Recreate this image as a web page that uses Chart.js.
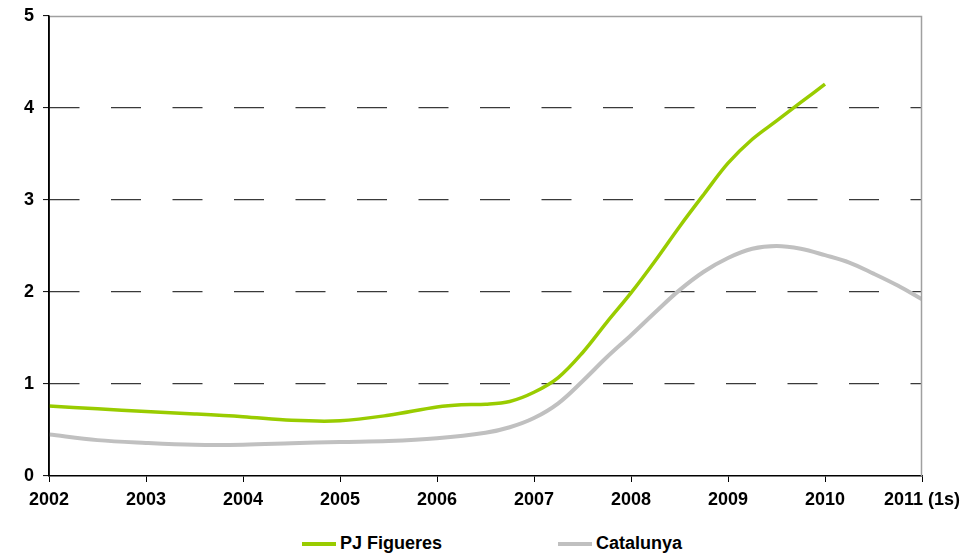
<!DOCTYPE html>
<html>
<head>
<meta charset="utf-8">
<script src="https://cdn.jsdelivr.net/npm/chart.js@4/dist/chart.umd.min.js"></script>
<style>
  html, body { margin: 0; padding: 0; background: #fff; }
  #wrap { position: relative; width: 974px; height: 555px; }
  #box { position: absolute; left: 0; top: 0; width: 974px; height: 520px; }
  #legend { position: absolute; left: 302px; top: 533px; display: flex; align-items: center;
            font: bold 18px "Liberation Sans", Arial, sans-serif; color: #000; }
  .item { display: flex; align-items: center; margin-right: 116px; }
  .swatch { width: 34px; height: 4px; margin-right: 4px; }
</style>
</head>
<body>
<div id="wrap">
  <div id="box"><canvas id="c"></canvas></div>
  <div id="legend"></div>
</div>
<script>
// Year axis
const yearTicks = [2002, 2003, 2004, 2005, 2006, 2007, 2008, 2009, 2010, 2011];
const yearLabels = ['2002', '2003', '2004', '2005', '2006', '2007', '2008', '2009', '2010', '2011 (1s)'];

// PJ Figueres
const figueresX = [2002, 2002.5, 2003, 2003.5, 2004, 2004.5, 2005, 2005.5, 2006, 2006.25, 2006.5, 2006.75,
                   2007, 2007.25, 2007.5, 2007.75, 2008, 2008.25, 2008.5, 2008.75, 2009, 2009.25, 2009.5, 2009.75, 2010];
const figueresY = [0.76, 0.73, 0.70, 0.675, 0.645, 0.605, 0.60, 0.66, 0.75, 0.775, 0.78, 0.81,
                   0.91, 1.07, 1.34, 1.67, 1.99, 2.34, 2.71, 3.06, 3.40, 3.66, 3.86, 4.06, 4.26];

// Catalunya
const catalunyaX = [2002, 2002.5, 2003, 2003.5, 2004, 2004.5, 2005, 2005.5, 2006, 2006.5, 2006.75,
                    2007, 2007.25, 2007.5, 2007.75, 2008, 2008.25, 2008.5, 2008.75, 2009, 2009.25, 2009.5, 2009.75,
                    2010, 2010.25, 2010.5, 2010.75, 2011];
const catalunyaY = [0.45, 0.39, 0.36, 0.34, 0.34, 0.355, 0.37, 0.38, 0.41, 0.47, 0.53,
                    0.63, 0.79, 1.03, 1.29, 1.53, 1.78, 2.02, 2.22, 2.37, 2.47, 2.50, 2.47,
                    2.40, 2.32, 2.20, 2.07, 1.92];

const seriesNames = ['PJ Figueres', 'Catalunya'];
const seriesColors = ['#99cc00', '#c0c0c0'];

const toPoints = (xs, ys) => xs.map((x, i) => ({ x: x, y: ys[i] }));

const FONT = { family: '"Liberation Sans", Arial, sans-serif', size: 18, weight: 'bold' };

// Plot frame: grey top/right edges, solid black left axis line
const frame = {
  id: 'frame',
  afterDraw(chart) {
    const a = chart.chartArea, ctx = chart.ctx;
    ctx.save();
    ctx.setLineDash([]);
    ctx.strokeStyle = '#a0a0a0';
    ctx.lineWidth = 1.5;
    ctx.beginPath();
    ctx.moveTo(a.left, a.top + 0.5);
    ctx.lineTo(a.right - 0.5, a.top + 0.5);
    ctx.lineTo(a.right - 0.5, a.bottom);
    ctx.stroke();
    ctx.strokeStyle = '#000';
    ctx.beginPath();
    ctx.moveTo(a.left, a.top);
    ctx.lineTo(a.left, a.bottom);
    ctx.stroke();
    ctx.restore();
  }
};

const chart = new Chart(document.getElementById('c'), {
  type: 'line',
  data: {
    datasets: [
      { label: seriesNames[0], data: toPoints(figueresX, figueresY), borderColor: seriesColors[0],
        backgroundColor: seriesColors[0], borderWidth: 3.5, pointRadius: 0, tension: 0.35 },
      { label: seriesNames[1], data: toPoints(catalunyaX, catalunyaY), borderColor: seriesColors[1],
        backgroundColor: seriesColors[1], borderWidth: 4, pointRadius: 0, tension: 0.35 }
    ]
  },
  options: {
    responsive: true,
    maintainAspectRatio: false,
    animation: false,
    layout: { padding: { left: 0, top: 16, right: 52, bottom: 0 } },
    plugins: { legend: { display: false }, tooltip: { enabled: false } },
    scales: {
      x: {
        type: 'linear',
        min: 2002, max: 2011,
        afterBuildTicks(scale) { scale.ticks = yearTicks.map(v => ({ value: v })); },
        afterFit(scale) { scale.height = 44; },
        ticks: {
          color: '#000', font: FONT, padding: 7, maxRotation: 0, autoSkip: false,
          callback: (v) => yearLabels[yearTicks.indexOf(v)]
        },
        grid: { drawOnChartArea: false, drawTicks: true, tickLength: 6, tickColor: '#000', tickWidth: 1 },
        border: { color: '#000', width: 1.5 }
      },
      y: {
        min: 0, max: 5,
        afterFit(scale) { scale.width = 49; scale.paddingTop = 0; },
        ticks: { stepSize: 1, color: '#000', font: FONT, padding: 9 },
        grid: {
          color: (ctx) => (ctx.tick && (ctx.tick.value === 0 || ctx.tick.value === 5)) ? 'rgba(0,0,0,0)' : '#3a3a3a',
          lineWidth: 1.2,
          tickLength: 6, tickColor: '#000', tickWidth: 1, tickBorderDash: []
        },
        border: { color: '#000', width: 1.5, dash: [30, 31.5] }
      }
    }
  },
  plugins: [frame]
});

// Legend built from the chart's datasets
const legend = document.getElementById('legend');
chart.data.datasets.forEach(ds => {
  const item = document.createElement('div');
  item.className = 'item';
  const sw = document.createElement('span');
  sw.className = 'swatch';
  sw.style.background = ds.borderColor;
  const tx = document.createElement('span');
  tx.textContent = ds.label;
  item.appendChild(sw);
  item.appendChild(tx);
  legend.appendChild(item);
});
</script>
</body>
</html>
